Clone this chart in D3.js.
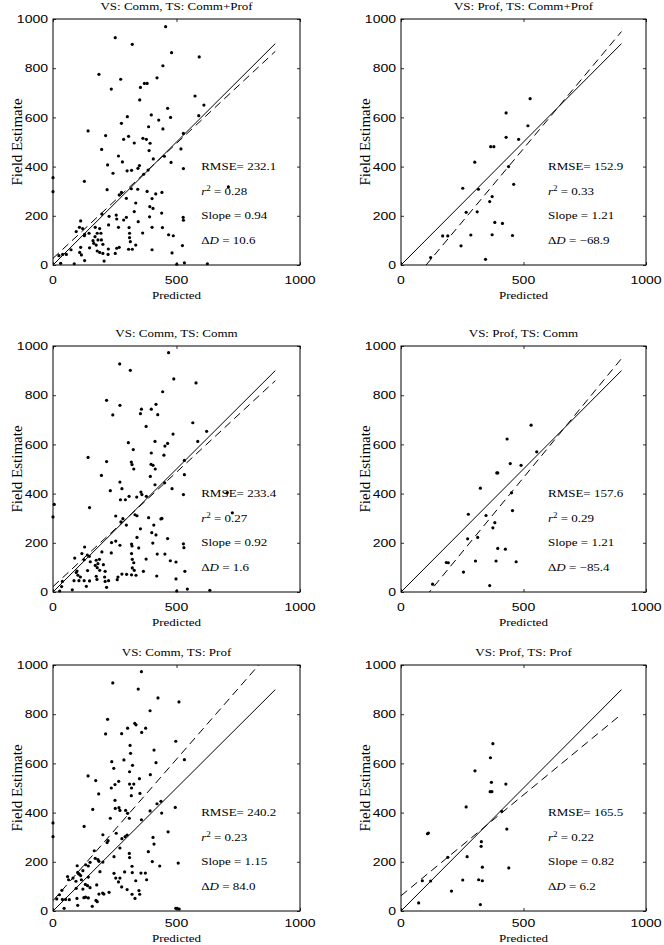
<!DOCTYPE html>
<html><head><meta charset="utf-8">
<script src="https://cdn.jsdelivr.net/npm/d3@7"></script>
<style>body{margin:0;background:#fff}</style>
</head><body>
<script>
// ---------- DATA ----------
const titles = ["VS: Comm, TS: Comm+Prof","VS: Prof, TS: Comm+Prof","VS: Comm, TS: Comm","VS: Prof, TS: Comm","VS: Comm, TS: Prof","VS: Prof, TS: Prof"];
const xTicks = [0,500,1000];
const yTicks = [0,200,400,600,800,1000];

// [predicted, field estimate]
const ptsCommCP = [[456,969],[252,924],[321,897],[480,863],[445,810],[186,775],[421,761],[274,755],[370,738],[381,738],[236,715],[354,722],[351,671],[464,637],[301,603],[398,610],[476,600],[428,589],[277,576],[387,562],[445,553],[142,545],[213,526],[306,523],[286,511],[329,496],[364,515],[378,511],[393,495],[197,470],[389,465],[265,443],[451,442],[406,431],[221,407],[281,419],[350,404],[344,393],[478,417],[300,383],[318,385],[243,373],[0,355],[367,369],[385,386],[127,340],[0,298],[219,306],[317,310],[343,308],[277,295],[268,285],[297,271],[381,299],[416,289],[441,295],[401,270],[335,252],[392,237],[405,230],[198,207],[256,203],[329,217],[227,198],[440,211],[297,194],[258,187],[391,196],[286,183],[345,176],[112,179],[225,163],[107,153],[120,148],[171,153],[189,148],[265,153],[308,152],[401,153],[443,152],[94,136],[128,125],[146,129],[179,129],[194,129],[127,119],[170,115],[310,129],[363,130],[468,123],[487,119],[162,99],[182,102],[196,102],[165,88],[175,81],[202,84],[310,111],[313,95],[73,62],[39,43],[112,72],[108,51],[115,41],[148,70],[179,57],[189,51],[202,47],[223,43],[207,16],[224,65],[258,68],[268,72],[252,47],[306,64],[321,64],[335,81],[401,62],[482,49],[128,18],[86,5],[31,7],[24,38],[54,43],[592,846],[575,687],[611,650],[590,607],[528,535],[518,472],[528,392],[710,318],[527,194],[528,182],[524,79],[532,9],[625,5],[501,3]];
const ptsProfCP = [[527,676],[429,618],[518,566],[429,519],[480,511],[366,481],[379,481],[301,418],[439,400],[460,328],[252,312],[316,308],[372,278],[362,258],[266,214],[311,216],[383,173],[414,169],[170,118],[191,118],[285,122],[372,123],[455,120],[245,78],[121,30],[345,23]];
const ptsCommC = [[468,973],[270,927],[313,901],[489,866],[444,814],[217,779],[271,759],[417,763],[242,720],[354,725],[358,743],[398,743],[424,721],[377,673],[486,642],[305,607],[413,612],[464,604],[453,593],[325,579],[398,565],[449,556],[142,547],[217,530],[317,528],[320,518],[327,500],[397,519],[405,515],[414,500],[196,474],[394,470],[271,447],[452,444],[413,436],[232,412],[279,420],[356,406],[360,396],[482,420],[273,375],[293,375],[308,389],[339,386],[378,389],[5,356],[148,343],[0,305],[254,309],[332,314],[340,310],[387,302],[283,298],[275,285],[297,272],[437,297],[441,299],[408,272],[354,257],[400,241],[417,232],[340,222],[464,217],[237,201],[254,207],[318,195],[320,187],[404,199],[198,163],[236,159],[271,190],[347,179],[128,183],[117,156],[139,150],[147,145],[88,138],[126,131],[151,123],[175,129],[188,133],[318,156],[321,133],[327,119],[377,134],[422,154],[453,154],[475,127],[498,122],[171,108],[182,115],[204,111],[97,85],[94,79],[101,68],[179,99],[189,88],[211,84],[140,87],[321,98],[329,88],[111,61],[105,46],[126,46],[148,45],[175,64],[178,51],[209,61],[225,46],[211,43],[217,19],[260,50],[263,61],[279,73],[298,72],[318,70],[336,68],[366,84],[420,65],[498,53],[135,23],[78,9],[35,22],[38,43],[85,46],[27,4],[579,850],[566,688],[622,653],[586,612],[532,535],[532,477],[528,396],[706,404],[726,322],[528,196],[530,180],[534,84],[544,12],[635,7],[501,4]];
const ptsProfC = [[531,678],[433,622],[554,570],[446,522],[490,515],[391,484],[395,484],[324,422],[451,403],[455,331],[275,316],[347,311],[383,282],[375,261],[272,216],[313,222],[395,177],[426,174],[185,120],[193,119],[304,126],[388,126],[470,123],[255,81],[129,32],[362,26]];
const ptsCommP = [[358,973],[242,927],[345,902],[425,866],[510,850],[393,814],[221,779],[213,720],[278,721],[302,743],[331,763],[336,757],[359,726],[375,743],[497,690],[312,673],[314,641],[409,654],[238,607],[287,614],[246,580],[417,603],[322,592],[142,549],[173,530],[394,554],[310,566],[266,527],[251,514],[236,500],[310,516],[327,516],[318,500],[350,538],[352,478],[317,469],[185,476],[251,450],[267,420],[271,409],[252,417],[294,409],[302,397],[232,377],[161,413],[309,377],[358,371],[393,407],[421,436],[437,446],[440,398],[495,421],[0,358],[126,344],[202,310],[223,286],[219,278],[256,316],[300,309],[292,302],[279,294],[0,302],[271,256],[247,221],[309,234],[310,217],[405,299],[409,272],[466,322],[386,241],[507,195],[402,201],[432,183],[167,245],[171,214],[182,209],[186,202],[202,199],[150,198],[132,188],[143,183],[98,184],[59,140],[63,127],[81,134],[100,157],[103,152],[107,149],[112,144],[121,164],[143,138],[190,160],[247,153],[290,159],[320,182],[321,156],[356,154],[374,154],[379,127],[254,134],[271,134],[265,118],[335,123],[300,87],[278,98],[320,68],[332,51],[348,83],[351,68],[93,121],[94,92],[115,127],[131,108],[140,103],[150,95],[121,89],[132,56],[125,54],[143,53],[177,106],[186,69],[201,73],[206,69],[227,76],[174,43],[179,38],[159,19],[100,23],[97,51],[66,46],[51,47],[38,47],[26,66],[36,84],[15,49],[45,11],[497,11],[532,615],[503,11],[511,8]];
const ptsProfP = [[375,680],[365,623],[302,570],[369,523],[428,516],[364,485],[371,485],[266,423],[411,405],[432,333],[108,314],[112,317],[328,282],[327,263],[191,218],[270,221],[332,178],[440,175],[87,123],[121,122],[252,126],[317,127],[332,123],[206,81],[72,33],[324,26]];

const rmse   = ["232.1","152.9","233.4","157.6","240.2","165.5"];
const r2     = ["0.28","0.33","0.27","0.29","0.23","0.22"];
const slopes = ["0.94","1.21","0.92","1.21","1.15","0.82"];
const deltaD = ["10.6","\u221268.9","1.6","\u221285.4","84.0","6.2"];
const fitIntercept = [27,-122,22,-140,42,62];
const fitSlope     = [0.935,1.19,0.93,1.21,1.15,0.82];

// ---------- LAYOUT ----------
const W=664,H=945;
const colL=[53,401], colW=[247,245];
const rowT=[19,346,665], rowH=[246,246,246];
const xTickOff=[19,19,16];      // baseline offset of x tick labels below axis
const xLabOff=[34,34,31];       // baseline offset of "Predicted"
const SQ=0.82;
const serif="'Liberation Serif','Times New Roman',serif";
const sans="'Liberation Sans',Arial,sans-serif";

const svg=d3.select("body").append("svg").attr("width",W).attr("height",H);
svg.append("rect").attr("width",W).attr("height",H).attr("fill","#fff");

function label(g,x,y,str,font,size,anchor,rot,sq){
  const s=(sq===undefined)?SQ:sq;
  let tr=`translate(${x},${y})`+(rot?` rotate(${rot})`:"")+` scale(1,${s})`;
  return g.append("text").attr("transform",tr).attr("font-family",font).attr("font-size",size)
    .attr("text-anchor",anchor).attr("fill","#000").text(str);
}

const allPts=[ptsCommCP,ptsProfCP,ptsCommC,ptsProfC,ptsCommP,ptsProfP];

allPts.forEach((pts,i)=>{
  const c=i%2, r=Math.floor(i/2);
  const L=colL[c], T=rowT[r], Wd=colW[c], Ht=rowH[r];
  const x=d3.scaleLinear().domain([0,1000]).range([L,L+Wd]);
  const y=d3.scaleLinear().domain([0,1000]).range([T+Ht,T]);
  const g=svg.append("g");
  const cid="clip"+i;
  g.append("clipPath").attr("id",cid).append("rect").attr("x",L).attr("y",T).attr("width",Wd).attr("height",Ht);

  // axes with inward ticks
  const tl=3;
  const ax=g.append("g").attr("transform",`translate(0,${T+Ht})`).call(d3.axisBottom(x).tickValues(xTicks).tickSize(-tl).tickFormat(""));
  const axT=g.append("g").attr("transform",`translate(0,${T})`).call(d3.axisTop(x).tickValues(xTicks).tickSize(-tl).tickFormat(""));
  const ay=g.append("g").attr("transform",`translate(${L},0)`).call(d3.axisLeft(y).tickValues(yTicks).tickSize(-tl).tickFormat(""));
  const ayR=g.append("g").attr("transform",`translate(${L+Wd},0)`).call(d3.axisRight(y).tickValues(yTicks).tickSize(-tl).tickFormat(""));
  [ax,axT,ay,ayR].forEach(a=>{a.select(".domain").remove();a.selectAll("line").attr("stroke","#000").attr("stroke-width",0.8);});
  g.append("rect").attr("x",L).attr("y",T).attr("width",Wd).attr("height",Ht).attr("fill","none").attr("stroke","#000").attr("stroke-width",1);

  // tick labels
  xTicks.forEach(v=>label(g,x(v),T+Ht+xTickOff[r],String(v),sans,14,"middle"));
  yTicks.forEach(v=>label(g,L-5,y(v)+4.2,String(v),sans,14,"end"));

  // 1:1 line and fit line
  const line=d3.line().x(d=>x(d[0])).y(d=>y(d[1]));
  g.append("path").attr("d",line([[0,0],[900,900]])).attr("stroke","#000").attr("stroke-width",1).attr("fill","none").attr("clip-path",`url(#${cid})`);
  g.append("path").attr("d",line([[0,fitIntercept[i]],[900,fitIntercept[i]+fitSlope[i]*900]]))
    .attr("stroke","#000").attr("stroke-width",1).attr("stroke-dasharray","8,5").attr("fill","none").attr("clip-path",`url(#${cid})`);

  // points
  g.selectAll("circle.pt").data(pts).enter().append("circle").attr("class","pt")
    .attr("cx",d=>x(d[0])).attr("cy",d=>y(d[1])).attr("r",1.6).attr("fill","#000");

  // title, axis labels
  label(g,L+Wd/2,T-9,titles[i],serif,13,"middle");
  label(g,L+Wd/2,T+Ht+xLabOff[r],"Predicted",serif,13,"middle");
  label(g,L-31,T+Ht/2,"Field Estimate",serif,15,"middle",-90,1);

  // stats text
  const sx=x(600);
  label(g,sx,y(400)+3.5,"RMSE= "+rmse[i],serif,13,"start");
  const t2=label(g,sx,y(300)+3.5,"",serif,13,"start");
  t2.append("tspan").attr("font-style","italic").text("r");
  t2.append("tspan").attr("font-size",9).attr("dy",-5).text("2");
  t2.append("tspan").attr("dy",5).text(" = "+r2[i]);
  label(g,sx,y(200)+3.5,"Slope = "+slopes[i],serif,13,"start");
  const t4=label(g,sx,y(100)+3.5,"\u0394",serif,13,"start");
  t4.append("tspan").attr("font-style","italic").text("D");
  t4.append("tspan").text(" = "+deltaD[i]);
});
</script>
</body></html>
